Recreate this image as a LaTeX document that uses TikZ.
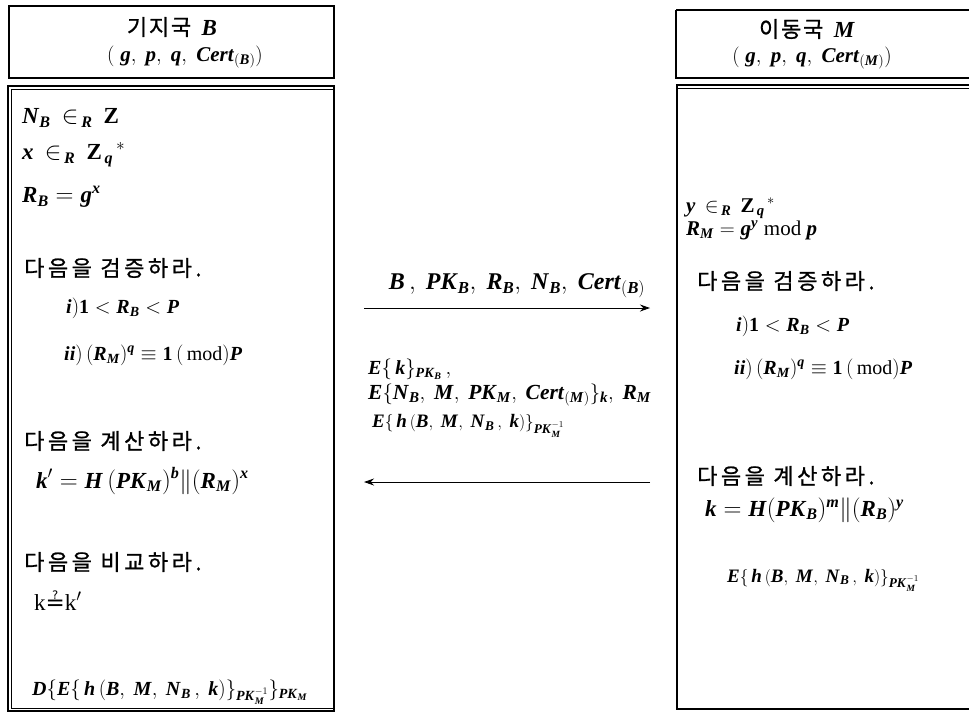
\documentclass[tikz,border=0pt]{standalone}
\usepackage{amsmath}
\usepackage{fontspec}
\setmainfont{Liberation Serif}
\newfontfamily\kr[LetterSpace=16,FakeBold=1]{Noto Sans CJK KR}
\newfontfamily\krh[LetterSpace=8,FakeBold=1]{Noto Sans CJK KR}
\newfontfamily\dv{DejaVu Sans}
\usetikzlibrary{arrows.meta}
\newcommand\vv[1]{\textbf{\textit{#1}}}
\newcommand\cs{,\ }
\newcommand\cst{,\;}
\tikzset{
  txt/.style={anchor=west, inner sep=0pt, font=\fontsize{23}{26}\selectfont},
  sml/.style={anchor=west, inner sep=0pt, font=\fontsize{20}{23}\selectfont},
  krt/.style={anchor=west, inner sep=0pt, font=\kr\fontsize{22}{26}\selectfont},
  hdr/.style={anchor=center, inner sep=0pt, font=\fontsize{21}{24}\selectfont},
  hbox/.style={draw, line width=1.8pt},
  msg/.style={line width=0.9pt, -{Stealth[length=10pt,width=7pt]}},
}
\begin{document}
\begin{tikzpicture}[x=1pt,y=-1pt]
\useasboundingbox (0,0) rectangle (969,716);
% header boxes
\draw[hbox] (9,6) rectangle (334,78);
\node[hdr] (hB1) at (172,27) {{\krh\fontsize{22}{26}\selectfont 기지국}\ \ \vv{\fontsize{23}{26}\selectfont B}};
\node[hdr] (hB2) at (185,57) {$(\;\vv{g}\cst\vv{p}\cst\vv{q}\cst\vv{Cert}_{(\vv{B})})$};
\draw[hbox] (676,10) -- (972,10) (676,10) -- (676,78) -- (972,78);
\node[hdr] (hM1) at (807,29) {{\krh\fontsize{22}{26}\selectfont 이동국}\ \ \vv{\fontsize{23}{26}\selectfont M}};
\node[hdr] (hM2) at (812,58) {$(\;\vv{g}\cst\vv{p}\cst\vv{q}\cst\vv{Cert}_{(\vv{M})})$};
% body boxes
\draw[line width=1.2pt] (8,86) rectangle (334,711);
\draw[line width=0.6pt] (11,89) -- (334,89) (11,89) -- (11,708) -- (334,708);
\draw[line width=1.2pt] (972,85) -- (677,85) -- (677,709) -- (972,709);
\draw[line width=0.6pt] (677,88) -- (972,88);
% left body
\node[txt] (l1) at (22,118) {$\vv{N}_{\vv{B}}\,\in_{\,\vv{R}}\,\textbf{Z}$};
\node[txt] (l2) at (22,155) {$\vv{x}\,\in_{\,\vv{R}}\,\textbf{Z}_{\,\vv{q}}{}^{\,*}$};
\node[txt] (l3) at (22,197) {$\vv{R}_{\vv{B}} = \vv{g}^{\vv{x}}$};
\node[krt] (l4) at (24,268) {다음을 검증하라.};
\node[sml] (l5) at (66,308) {$\vv{i})\textbf{1} < \vv{R}_{\vv{B}} < \vv{P}$};
\node[sml] (l6) at (64,355) {$\vv{ii})\,(\vv{R}_{\vv{M}})^{\vv{q}} \equiv \textbf{1}\,(\,\textrm{mod})\vv{P}$};
\node[krt] (l7) at (24,441) {다음을 계산하라.};
\node[txt] (l8) at (36,481) {$\vv{k}' = \vv{H}\,(\vv{PK}_{\vv{M}})^{\vv{b}}\|(\vv{R}_{\vv{M}})^{\vv{x}}$};
\node[krt] (l9) at (24,562) {다음을 비교하라.};
\node[txt] (l10) at (34,601) {k{\dv ≟}k$'$};
\node[sml] (l11) at (32,692) {$\vv{D}\{\vv{E}\{\,\vv{h}\,(\vv{B}\cs\vv{M}\cs\vv{N}_{\vv{B}}\,\cs\vv{k})\}_{\vv{PK}_{\vv{M}}^{-1}}\}_{\vv{PK}_{\vv{M}}}$};
% middle
\node[txt, anchor=center, font=\fontsize{24}{27}\selectfont] (m1) at (517,286) {$\vv{B}\,\cs\vv{PK}_{\vv{B}}\cs\vv{R}_{\vv{B}}\cs\vv{N}_{\vv{B}}\cs\vv{Cert}_{(\vv{B})}$};
\node[sml] (m2) at (368,369) {$\vv{E}\{\,\vv{k}\}_{\vv{PK}_{\vv{B}}}\,,$};
\node[txt, font=\fontsize{21.5}{24}\selectfont] (m3) at (368,395) {$\vv{E}\{\vv{N}_{\vv{B}}\cs\vv{M}\cs\vv{PK}_{\vv{M}}\cs\vv{Cert}_{(\vv{M})}\}_{\vv{k}}\cs\vv{R}_{\vv{M}}$};
\node[sml, font=\fontsize{19}{22}\selectfont] (m4) at (372,426) {$\vv{E}\{\,\vv{h}\,(\vv{B}\cs\vv{M}\cs\vv{N}_{\vv{B}}\,\cs\vv{k})\}_{\vv{PK}_{\vv{M}}^{-1}}$};
\coordinate (a1s) at (364,308);
\coordinate (a1e) at (650,308);
\coordinate (a2s) at (650,482);
\coordinate (a2e) at (364,482);
\draw[msg] (a1s) -- (a1e);
\draw[msg] (a2s) -- (a2e);
% right body
\node[sml, font=\fontsize{21}{24}\selectfont] (r1) at (686,208) {$\vv{y}\,\in_{\,\vv{R}}\,\textbf{Z}_{\,\vv{q}}{}^{\,*}$};
\node[sml, font=\fontsize{21}{24}\selectfont] (r2) at (686,230) {$\vv{R}_{\vv{M}} = \vv{g}^{\vv{y}}\;\textrm{mod}\ \vv{p}$};
\node[krt] (r3) at (697,281) {다음을 검증하라.};
\node[sml] (r4) at (736,326) {$\vv{i})\textbf{1} < \vv{R}_{\vv{B}} < \vv{P}$};
\node[sml] (r5) at (734,369) {$\vv{ii})\,(\vv{R}_{\vv{M}})^{\vv{q}} \equiv \textbf{1}\,(\,\textrm{mod})\vv{P}$};
\node[krt] (r6) at (697,476) {다음을 계산하라.};
\node[txt] (r7) at (705,510) {$\vv{k} = \vv{H}(\vv{PK}_{\vv{B}})^{\vv{m}}\|(\vv{R}_{\vv{B}})^{\vv{y}}$};
\node[sml, font=\fontsize{19}{22}\selectfont] (r8) at (727,580) {$\vv{E}\{\,\vv{h}\,(\vv{B}\cs\vv{M}\cs\vv{N}_{\vv{B}}\,\cs\vv{k})\}_{\vv{PK}_{\vv{M}}^{-1}}$};
\end{tikzpicture}
\end{document}
